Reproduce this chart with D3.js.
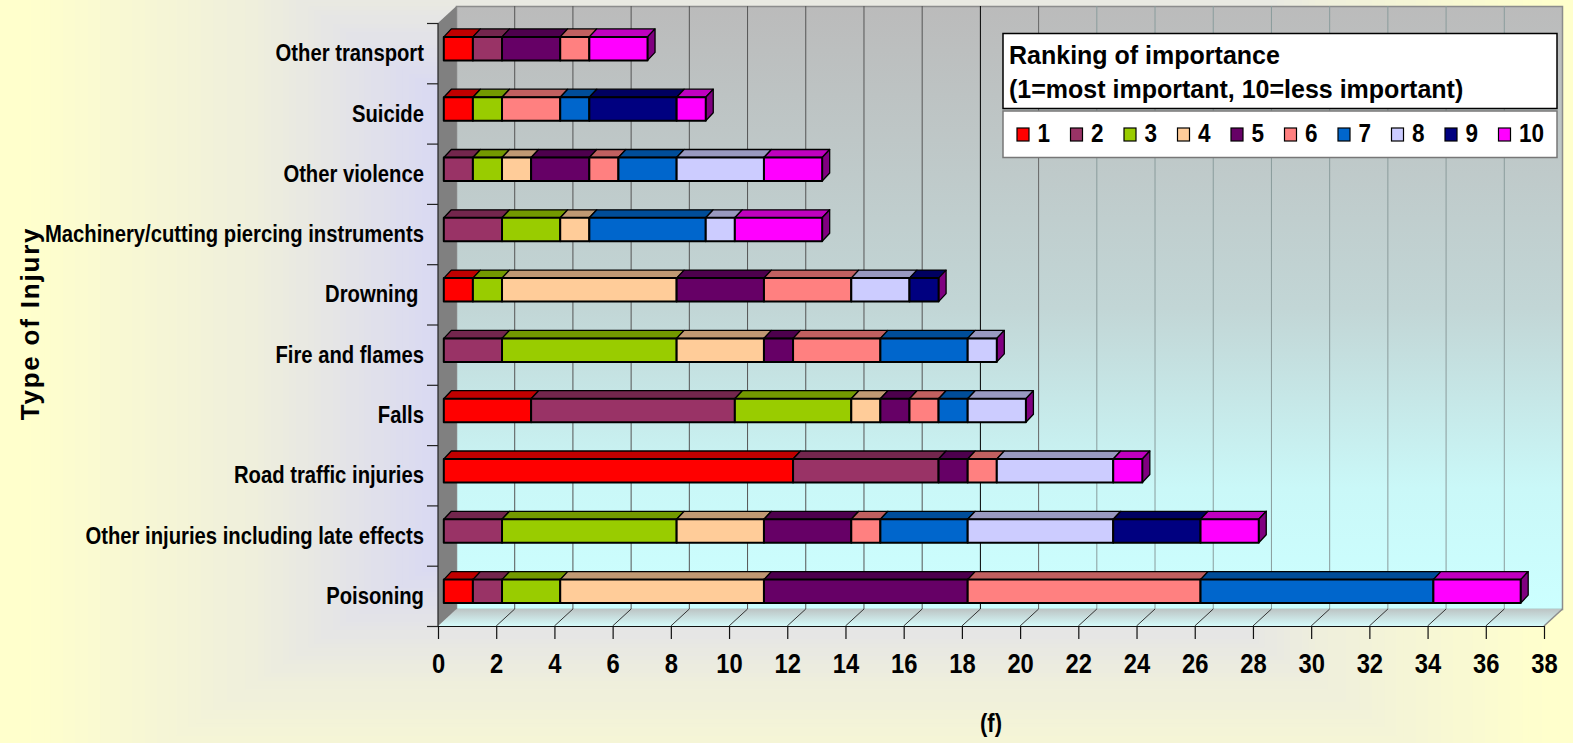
<!DOCTYPE html>
<html>
<head>
<meta charset="utf-8">
<script src="https://cdnjs.cloudflare.com/ajax/libs/d3/7.8.5/d3.min.js"></script>
<style>
body { margin: 0; overflow: hidden; }
svg { display: block; }
text { font-family: "Liberation Sans", Arial, sans-serif; font-weight: bold; fill: #000; white-space: pre; }
</style>
</head>
<body>
<div id="container"></div>
<script>
const categories = ["Other transport", "Suicide", "Other violence", "Machinery/cutting piercing instruments", "Drowning ",
    "Fire and flames", "Falls", "Road traffic injuries", "Other injuries including late effects", "Poisoning"];
const ranks = ["1", "2", "3", "4", "5", "6", "7", "8", "9", "10"];
const rank1 = [1, 1, 0, 0, 1, 0, 3, 12, 0, 1];
const rank2 = [1, 0, 1, 2, 0, 2, 7, 5, 2, 1];
const rank3 = [0, 1, 1, 2, 1, 6, 4, 0, 6, 2];
const rank4 = [0, 0, 1, 1, 6, 3, 1, 0, 3, 7];
const rank5 = [2, 0, 2, 0, 3, 1, 1, 1, 3, 7];
const rank6 = [1, 2, 1, 0, 3, 3, 1, 1, 1, 8];
const rank7 = [0, 1, 2, 4, 0, 3, 1, 0, 3, 8];
const rank8 = [0, 0, 3, 1, 2, 1, 2, 4, 5, 0];
const rank9 = [0, 3, 0, 0, 1, 0, 0, 0, 3, 0];
const rank10 = [2, 1, 2, 3, 0, 0, 0, 1, 2, 3];
const rankValues = [rank1, rank2, rank3, rank4, rank5, rank6, rank7, rank8, rank9, rank10];
const colors = ["#ff0000", "#993366", "#99cc00", "#ffcc99", "#660066", "#ff8080", "#0066cc", "#ccccff", "#000080", "#ff00ff"];
const xTicks = d3.range(0, 39, 2);
const legendTitle = ["Ranking of importance", "(1=most important, 10=less important)"];

const width = 1573;
const height = 743;
const depthX = 18.5;
const depthY = 17;
const barH = 23.5;
const barShiftX = 5.8;
const barShiftY = 4.5;
const barDepthX = 7.5;
const barDepthY = 8;

const svg = d3.select("div#container")
    .append("svg")
    .attr("width", width)
    .attr("height", height);

// the original type is a narrow bold, no narrow face here so squeeze the glyphs
const squeeze = function(sel, k) {
    sel.attr("lengthAdjust", "spacingAndGlyphs")
        .attr("textLength", function() { return this.getComputedTextLength() * k; });
};

const xScale = d3.scaleLinear().domain([0, 38]).range([438, 1544]);
const yScale = d3.scaleBand().domain(categories).range([23, 626]);
const yEdges = d3.scaleLinear().domain([0, categories.length]).range([23, 626]);

// background is a rectangular path gradient, yellow at the edge to lavender inside
const bgStep = d3.scaleLinear().domain([1, 0.97, 0.68, 0.44, 0]).range([0, 0, 0.32, 0.76, 1]);
const bgColor = d3.interpolateRgb("#ffffcc", "#ccccff");
svg.selectAll("rect.bg")
    .data(d3.range(1.4, 0, -0.008))
    .enter()
    .append("rect")
    .attr("class", "bg")
    .attr("x", d => 786.5 - 786.5 * d)
    .attr("y", d => 327 - 527 * d)
    .attr("width", d => 2 * 786.5 * d)
    .attr("height", d => 2 * 527 * d)
    .attr("fill", d => bgColor(bgStep(Math.min(d, 1))));

const defs = svg.append("defs");
const wallGrad = defs.append("linearGradient").attr("id", "wall").attr("x1", 0).attr("y1", 0).attr("x2", 0).attr("y2", 1);
wallGrad.append("stop").attr("offset", "0%").attr("stop-color", "#bbbbbb");
wallGrad.append("stop").attr("offset", "50%").attr("stop-color", "#c2d6d6");
wallGrad.append("stop").attr("offset", "80%").attr("stop-color", "#caf8f8");
wallGrad.append("stop").attr("offset", "100%").attr("stop-color", "#ccffff");
const floorGrad = defs.append("linearGradient").attr("id", "floor").attr("x1", 0).attr("y1", 0).attr("x2", 0).attr("y2", 1);
floorGrad.append("stop").attr("offset", "0%").attr("stop-color", "#bcc4c4");
floorGrad.append("stop").attr("offset", "100%").attr("stop-color", "#d6fbfb");

const x0 = xScale(0);
const x1 = xScale(38);
const yTop = yEdges(0);
const yBase = yEdges(categories.length);

// back wall, floor and left wall
svg.append("rect")
    .attr("x", x0 + depthX)
    .attr("y", yTop - depthY + 0.5)
    .attr("width", x1 - x0)
    .attr("height", yBase - yTop)
    .attr("fill", "url(#wall)")
    .attr("stroke", "#8c8c8c")
    .attr("stroke-width", 1.5);

svg.append("polygon")
    .attr("points", [[x0, yBase], [x1, yBase], [x1 + depthX, yBase - depthY], [x0 + depthX, yBase - depthY]].join(" "))
    .attr("fill", "url(#floor)");

svg.append("line")
    .attr("x1", x1).attr("y1", yBase)
    .attr("x2", x1 + depthX).attr("y2", yBase - depthY)
    .attr("stroke", "#8c8c8c")
    .attr("stroke-width", 1.5);

const gridColor = function(v) {
    if (v === 18) return "#000";
    if (v <= 16) return "#555";
    if (v === 20) return "#666";
    return "#8a9c9c";
};

svg.selectAll("line.grid")
    .data(xTicks.slice(1, -1))
    .enter()
    .append("line")
    .attr("class", "grid")
    .attr("x1", d => xScale(d) + depthX)
    .attr("x2", d => xScale(d) + depthX)
    .attr("y1", yTop - depthY)
    .attr("y2", yBase - depthY)
    .attr("stroke", gridColor)
    .attr("stroke-width", 1);

svg.selectAll("line.floorgrid")
    .data(xTicks.slice(1, -1))
    .enter()
    .append("line")
    .attr("class", "floorgrid")
    .attr("x1", d => xScale(d))
    .attr("x2", d => xScale(d) + depthX)
    .attr("y1", yBase)
    .attr("y2", yBase - depthY)
    .attr("stroke", "#333")
    .attr("stroke-width", 1);

svg.append("polygon")
    .attr("points", [[x0, yTop], [x0 + depthX, yTop - depthY], [x0 + depthX, yBase - depthY], [x0, yBase]].join(" "))
    .attr("fill", "#808080");

// axes
const xaxis = d3.axisBottom(xScale).tickValues(xTicks).tickSize(13).tickSizeOuter(0).tickPadding(15);
svg.append("g")
    .attr("class", "axis")
    .attr("transform", "translate(0," + yBase + ")")
    .call(xaxis)
    .call(g => g.selectAll("text").style("font-size", "27px").style("font-family", null).call(squeeze, 0.88))
    .call(g => g.selectAll(".domain,line").attr("stroke", "#111").attr("stroke-width", 1.2));

const yticks = d3.axisLeft(yEdges).tickValues(d3.range(0, 11)).tickSize(11).tickFormat("");
svg.append("g")
    .attr("class", "axis")
    .attr("transform", "translate(" + x0 + ",0)")
    .call(yticks)
    .call(g => g.selectAll(".domain").attr("d", "M0," + yTop + "V" + yBase))
    .call(g => g.selectAll(".domain,line").attr("stroke", "#222").attr("stroke-width", 1.2));

svg.selectAll("text.cat")
    .data(categories)
    .enter()
    .append("text")
    .attr("class", "cat")
    .attr("x", 424)
    .attr("y", d => yScale(d) + yScale.bandwidth() / 2)
    .attr("dy", "0.35em")
    .attr("text-anchor", "end")
    .style("font-size", "23px")
    .call(sel => sel.text(d => d))
    .call(squeeze, 0.88);

svg.append("text")
    .attr("transform", "translate(38.5,323.5) rotate(-90)")
    .attr("text-anchor", "middle")
    .style("font-size", "26px")
    .style("letter-spacing", "1.8px")
    .text("Type of Injury");

svg.append("text")
    .attr("x", 991)
    .attr("y", 732)
    .attr("text-anchor", "middle")
    .style("font-size", "25px")
    .text("(f)")
    .call(squeeze, 0.88);

// stacked 3D bars
const table = categories.map(function(c, i) {
    const row = { category: c };
    ranks.forEach(function(r, j) { row[r] = rankValues[j][i]; });
    return row;
});
const slices = d3.stack().keys(ranks)(table);

const segments = [];
slices.forEach(function(s, j) {
    s.forEach(function(d, i) {
        if (d[1] > d[0]) segments.push({ cat: categories[i], from: d[0], to: d[1], color: colors[j] });
    });
});
const lastByCat = d3.rollup(segments, v => d3.max(v, d => d.to), d => d.cat);

const bars = svg.selectAll("g.seg")
    .data(segments)
    .enter()
    .append("g")
    .attr("class", "seg")
    .attr("stroke", "#000")
    .attr("stroke-linejoin", "round");

const left = d => xScale(d.from) + barShiftX;
const right = d => xScale(d.to) + barShiftX;
const barTop = d => yScale(d.cat) + yScale.bandwidth() / 2 - barShiftY - barH / 2;

bars.append("polygon")
    .attr("points", d => [[left(d), barTop(d)], [right(d), barTop(d)],
        [right(d) + barDepthX, barTop(d) - barDepthY], [left(d) + barDepthX, barTop(d) - barDepthY]].join(" "))
    .attr("fill", d => d3.rgb(d.color).darker(0.8))
    .attr("stroke-width", 1.3);

// the end cap is always the colour of the last series
bars.filter(d => d.to === lastByCat.get(d.cat))
    .append("polygon")
    .attr("points", d => [[right(d), barTop(d)], [right(d) + barDepthX, barTop(d) - barDepthY],
        [right(d) + barDepthX, barTop(d) - barDepthY + barH], [right(d), barTop(d) + barH]].join(" "))
    .attr("fill", "#800080")
    .attr("stroke-width", 1.3);

bars.append("rect")
    .attr("x", left)
    .attr("y", barTop)
    .attr("width", d => right(d) - left(d))
    .attr("height", barH)
    .attr("fill", d => d.color)
    .attr("stroke-width", 2);

// legend
svg.append("rect")
    .attr("x", 1003).attr("y", 33.5)
    .attr("width", 554).attr("height", 75)
    .attr("fill", "#fff")
    .attr("stroke", "#000")
    .attr("stroke-width", 1.5);

svg.selectAll("text.title")
    .data(legendTitle)
    .enter()
    .append("text")
    .attr("class", "title")
    .attr("x", 1009)
    .attr("y", (d, i) => 64 + i * 34)
    .style("font-size", "25px")
    .text(d => d);

svg.append("rect")
    .attr("x", 1003).attr("y", 111)
    .attr("width", 554).attr("height", 46.5)
    .attr("fill", "#fff")
    .attr("stroke", "#777")
    .attr("stroke-width", 1.5);

const legendX = d3.scaleBand().domain(ranks).range([1017, 1552]);
const legend = svg.selectAll("g.legend")
    .data(ranks)
    .enter()
    .append("g")
    .attr("class", "legend")
    .attr("transform", d => "translate(" + legendX(d) + ",0)");

legend.append("rect")
    .attr("y", 128)
    .attr("width", 12)
    .attr("height", 13)
    .attr("fill", (d, i) => colors[i])
    .attr("stroke", "#000")
    .attr("stroke-width", 1.2);

legend.append("text")
    .attr("x", 20.5)
    .attr("y", 142)
    .style("font-size", "25px")
    .text(d => d)
    .call(squeeze, 0.9);
</script>
</body>
</html>
